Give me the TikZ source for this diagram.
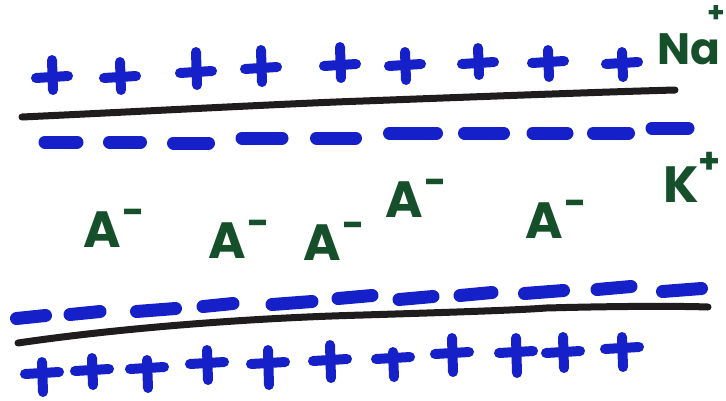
\documentclass[tikz,border=0pt]{standalone}
\usepackage{fontspec}
\setmainfont{Poppins}
\definecolor{ink}{RGB}{22,32,200}
\definecolor{leaf}{RGB}{22,80,42}
\definecolor{lead}{RGB}{30,28,28}
\newcommand\anion{A\kern1pt\raisebox{0.42em}{\fontsize{22}{22}\selectfont -}}
\newcommand\cation[1]{#1\raisebox{0.55em}{\fontsize{20}{20}\selectfont +}}
\begin{document}
\begin{tikzpicture}[x=0.02cm,y=-0.02cm,
  pm/.style={ink,line width=0.2cm,line cap=round},
  mm/.style={ink,line width=0.26cm,line cap=round},
  membrane/.style={lead,line width=0.14cm,line cap=round},
  ion/.style={leaf,font=\fontsize{29}{29}\bfseries\selectfont,inner sep=0pt}]
\useasboundingbox (0,0) rectangle (726,400);
\fill[white] (0,0) rectangle (726,400);
% membranes
\draw[membrane] (22,117) .. controls (150,111) and (300,103) .. (363,101)
  .. controls (470,97) and (600,92) .. (675,90);
\draw[membrane] (18,343) .. controls (120,328) and (250,318) .. (363,315)
  .. controls (460,312) and (520,310) .. (546,308)
  .. controls (620,306) and (680,306) .. (708,307);
% top plus signs
\foreach \x/\h/\t/\b in {52/77/55/95,120/77/57/95,196/72/47/90,261/68/45/87,340/65/42/83,405/65/47/85,478/63/43/80,548/62/45/82,622/63/47/82}{
  \draw[pm] (\x-16,\h+1) -- (\x+16,\h-1);
  \draw[pm] (\x,\t+5) -- (\x+1,\b-5);
}
% top minus signs
\foreach \x/\y/\l in {61/142/16,125/142/15.5,191/143/17.5,262/138/20,336/138/19.5,413/133/23.5,484/133/19.5,550/133/17,611/133/17.5,670/128/18}{
  \draw[mm] (\x-\l,\y) -- (\x+\l,\y);
}
% bottom minus signs
\foreach \x/\y/\l in {31/317/14.5,85/313/15,156/310/19.5,218/305/15,292/303/20,355/297/17,416/298/17,476/294/16,544/292/19.5,614/288/17,682/290/19.5}{
  \draw[mm] (\x-\l,\y+1.5) -- (\x+\l,\y-1.5);
}
% bottom plus signs
\foreach \x/\h/\t/\b in {42/373/357/397,92/370/353/390,147/368/355/393,207/363/345/385,268/363/345/390,330/360/340/383,393/358/347/382,452/353/333/377,516/352/333/378,563/352/332/373,622/348/332/372}{
  \draw[pm] (\x-17,\h+1) -- (\x+17,\h-1);
  \draw[pm] (\x,\t+5) -- (\x+1,\b-5);
}
% ions
\node[ion,anchor=base west] (a1) at (83,247) {\anion};
\node[ion,anchor=base west] (a2) at (208,258) {\anion};
\node[ion,anchor=base west] (a3) at (303,260) {\anion};
\node[ion,anchor=base west] (a4) at (385,217) {\anion};
\node[ion,anchor=base west] (a5) at (525,238) {\anion};
\node[ion,anchor=base west,font=\fontsize{25}{25}\bfseries\selectfont] (na) at (657,64)
  {Na\kern-7pt\raisebox{0.95em}{\fontsize{16}{16}\selectfont +}};
\node[ion,anchor=base west] (k) at (663,202) {\cation{K}};
\end{tikzpicture}
\end{document}
